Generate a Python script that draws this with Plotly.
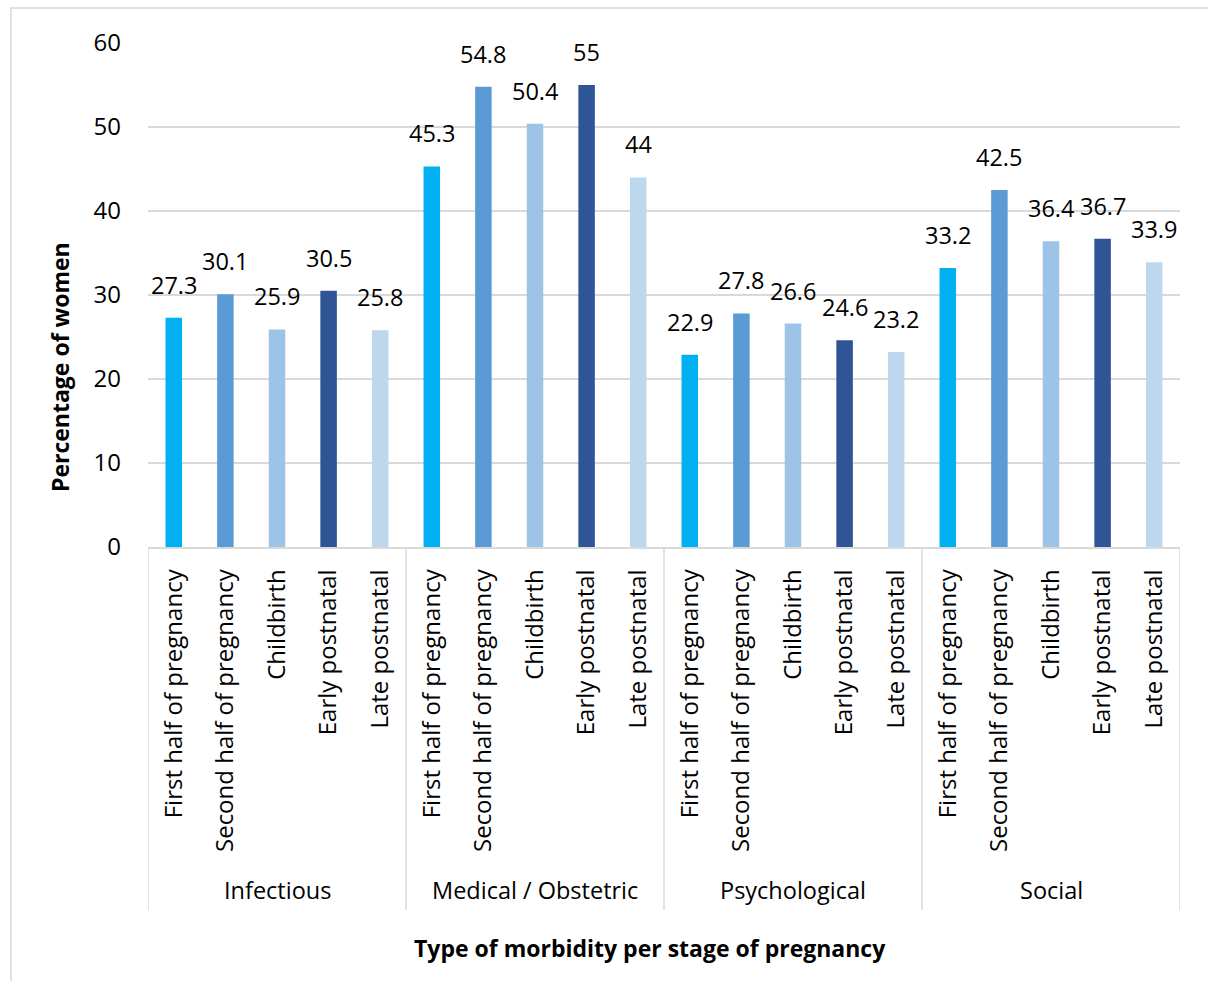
import plotly.graph_objects as go

groups = ["Infectious", "Medical / Obstetric", "Psychological", "Social"]
stages = ["First half of pregnancy", "Second half of pregnancy", "Childbirth",
          "Early postnatal", "Late postnatal"]
infectious = [27.3, 30.1, 25.9, 30.5, 25.8]
medical = [45.3, 54.8, 50.4, 55, 44]
psychological = [22.9, 27.8, 26.6, 24.6, 23.2]
social = [33.2, 42.5, 36.4, 36.7, 33.9]
stage_colors = ["#00B0F0", "#5B9BD5", "#9DC3E6", "#2F5597", "#BDD7EE"]

series = [infectious, medical, psychological, social]
values = [v for s in series for v in s]
labels = stages * len(groups)
colors = stage_colors * len(groups)
xs = list(range(len(values)))

FONT = "Open Sans"
fig = go.Figure()
fig.add_trace(go.Bar(x=xs, y=values, marker=dict(color=colors, line=dict(width=0)),
                     width=0.32, hoverinfo="y"))

annotations = []
for x, v in zip(xs, values):
    annotations.append(dict(x=x, y=v, xref="x", yref="y", text=f"{v:g}", showarrow=False,
                            yanchor="bottom", yshift=15,
                            font=dict(family=FONT, size=23.5, color="#000000")))
n = len(stages)
for i, g in enumerate(groups):
    annotations.append(dict(x=i * n + (n - 1) / 2, y=-0.6806, xref="x", yref="paper", text=g,
                            showarrow=False, yanchor="middle",
                            font=dict(family=FONT, size=23.5, color="#000000")))
annotations.append(dict(x=-0.0853, y=0.357, xref="paper", yref="paper",
                        text="<b>Percentage of women</b>", textangle=-90, showarrow=False,
                        xanchor="center", yanchor="middle",
                        font=dict(family=FONT, size=23, color="#000000")))
annotations.append(dict(x=0.4864, y=-0.7956, xref="paper", yref="paper",
                        text="<b>Type of morbidity per stage of pregnancy</b>", showarrow=False,
                        xanchor="center", yanchor="middle",
                        font=dict(family=FONT, size=23, color="#000000")))

shapes = []
for i in range(len(groups) + 1):
    shapes.append(dict(type="line", xref="x", yref="paper", x0=i * n - 0.5, x1=i * n - 0.5,
                       y0=0, y1=-0.72, line=dict(color="#D9D9D9", width=1.5)))
shapes.append(dict(type="rect", xref="paper", yref="paper", x0=-0.1328, x1=1.06,
                   y0=-0.9, y1=1.0694, line=dict(color="#D9D9D9", width=1.5)))

fig.update_layout(
    width=1208, height=981,
    margin=dict(l=148, r=28, t=43, b=434),
    paper_bgcolor="white", plot_bgcolor="white",
    showlegend=False,
    annotations=annotations, shapes=shapes,
    font=dict(family=FONT, size=24, color="#000000"),
    xaxis=dict(range=[-0.5, len(values) - 0.5], tickmode="array", tickvals=xs, ticktext=labels,
               tickangle=-90, ticks="", showgrid=False, zeroline=False,
               showline=True, linecolor="#D9D9D9", linewidth=1.5,
               ticklabelstandoff=11,
               tickfont=dict(family=FONT, size=24, color="#000000")),
    yaxis=dict(range=[0, 60], tickmode="linear", tick0=0, dtick=10,
               showgrid=True, gridcolor="#D9D9D9", gridwidth=1.5, zeroline=False,
               showline=False, ticks="", ticklabelstandoff=26,
               tickfont=dict(family=FONT, size=24, color="#000000")),
)

fig.write_html("out.html")
